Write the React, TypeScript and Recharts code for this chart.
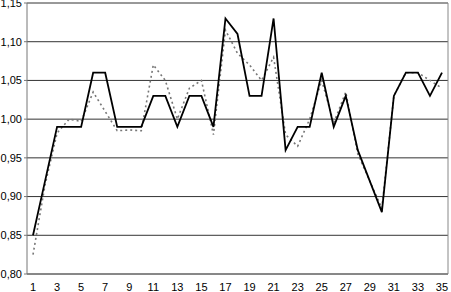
import React from 'react';
import { LineChart, Line, XAxis, YAxis, CartesianGrid, ReferenceLine } from 'recharts';

const categories = [1,2,3,4,5,6,7,8,9,10,11,12,13,14,15,16,17,18,19,20,21,22,23,24,25,26,27,28,29,30,31,32,33,34,35];
const solidSeries = [0.85,0.92,0.99,0.99,0.99,1.06,1.06,0.99,0.99,0.99,1.03,1.03,0.99,1.03,1.03,0.99,1.13,1.11,1.03,1.03,1.13,0.96,0.99,0.99,1.06,0.99,1.03,0.96,0.92,0.88,1.03,1.06,1.06,1.03,1.06];
const dottedSeries = [0.825,0.915,0.982,1.0,0.997,1.035,1.01,0.985,0.986,0.985,1.07,1.05,1.0,1.04,1.05,0.98,1.115,1.085,1.07,1.05,1.08,0.98,0.965,1.0,1.05,0.995,1.035,0.955,0.92,0.885,1.03,1.06,1.06,1.05,1.04];
const yTicks = [0.8,0.85,0.9,0.95,1.0,1.05,1.1,1.15];
const xLabelTicks = [1,3,5,7,9,11,13,15,17,19,21,23,25,27,29,31,33,35];
const xMinorTicks = [0.5,1.5,2.5,3.5,4.5,5.5,6.5,7.5,8.5,9.5,10.5,11.5,12.5,13.5,14.5,15.5,16.5,17.5,18.5,19.5,20.5,21.5,22.5,23.5,24.5,25.5,26.5,27.5,28.5,29.5,30.5,31.5,32.5,33.5,34.5,35.5];

const data = categories.map((c, i) => ({ x: c, a: solidSeries[i], b: dottedSeries[i] }));
const font = { fontFamily: 'Liberation Sans, Arial, sans-serif', fontSize: 11, fill: '#000' };

export default function App() {
  return (
    <div style={{ position: 'absolute', left: 0, top: 0, background: '#fff' }}>
      <LineChart width={451} height={292} data={data} margin={{ top: 3, right: 3, left: 0, bottom: 0 }}>
        <CartesianGrid vertical={false} stroke="#333" horizontalValues={yTicks} />
        <XAxis xAxisId="t" type="number" dataKey="x" domain={[0.5, 35.5]} ticks={xMinorTicks}
          height={0} axisLine={false} tickSize={4} tickFormatter={() => ''} stroke="#777" interval={0} />
        <XAxis xAxisId="l" type="number" dataKey="x" domain={[0.5, 35.5]} ticks={xLabelTicks}
          height={18} tickLine={false} tickMargin={3} axisLine={{ stroke: '#777' }} tick={font} interval={0} />
        <YAxis type="number" domain={[0.8, 1.15]} ticks={yTicks} width={27} tickSize={3} tickMargin={2}
          tickFormatter={(v: number) => v.toFixed(2).replace('.', ',')} tick={font}
          axisLine={{ stroke: '#777' }} tickLine={{ stroke: '#777' }} interval={0} />
        <ReferenceLine xAxisId="t" x={35.5} stroke="#888" />
        <Line xAxisId="l" type="linear" dataKey="b" stroke="#777" strokeWidth={1.6} strokeDasharray="2 3" dot={false} isAnimationActive={false} />
        <Line xAxisId="l" type="linear" dataKey="a" stroke="#000" strokeWidth={1.8} dot={false} isAnimationActive={false} />
      </LineChart>
    </div>
  );
}
